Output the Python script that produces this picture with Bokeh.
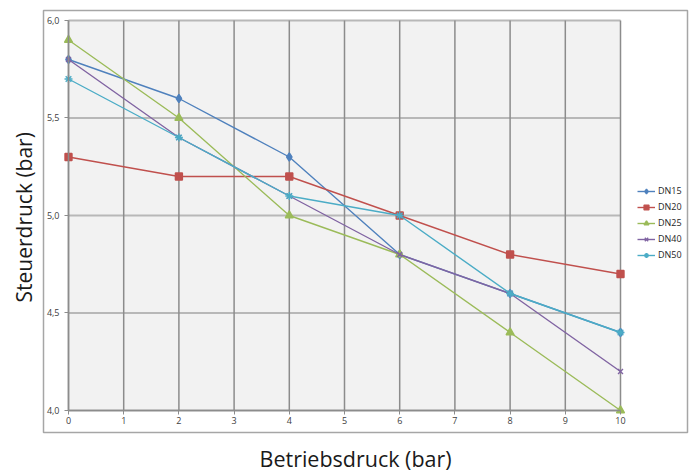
import math
from bokeh.plotting import figure
from bokeh.models import FixedTicker, Legend, LegendItem, Label, BoxAnnotation
from bokeh.embed import file_html
from bokeh.resources import INLINE

# ---- data ----
pressure = [0, 2, 4, 6, 8, 10]
dn15 = [5.8, 5.6, 5.3, 4.8, 4.6, 4.4]
dn20 = [5.3, 5.2, 5.2, 5.0, 4.8, 4.7]
dn25 = [5.9, 5.5, 5.0, 4.8, 4.4, 4.0]
dn40 = [5.8, 5.4, 5.1, 4.8, 4.6, 4.2]
dn50 = [5.7, 5.4, 5.1, 5.0, 4.6, 4.4]
series_names = ["DN15", "DN20", "DN25", "DN40", "DN50"]
x_ticks = list(range(0, 11))
y_ticks = [4.0, 4.5, 5.0, 5.5, 6.0]
y_tick_labels = ["4,0", "4,5", "5,0", "5,5", "6,0"]
x_title = "Betriebsdruck (bar)"
y_title = "Steuerdruck (bar)"

colors = ["#4F81BD", "#C0504D", "#9BBB59", "#8064A2", "#4BACC6"]
markers = ["diamond", "square", "triangle", "x", "asterisk"]
msizes = [8, 7, 8, 7, 8]

FONT = "Open Sans"
x0, x1 = x_ticks[0], x_ticks[-1]
y0, y1 = y_ticks[0], y_ticks[-1]

W, H = 692, 471
# the frame covers the whole canvas; plot area (0..10, 4..6) sits inside it
p = figure(width=W, height=H,
           x_range=(-1.2319, 11.3043), y_range=(3.68718, 6.10256),
           output_backend="svg", toolbar_location=None, min_border=0)
p.title.visible = False
p.background_fill_color = "white"
p.border_fill_color = "white"
p.outline_line_color = None
p.xgrid.visible = False
p.ygrid.visible = False

# outer chart-area box (screen units, measured from the canvas bottom-left)
p.add_layout(BoxAnnotation(left=43, right=687, bottom=H - 432, top=H - 10,
                           left_units="screen", right_units="screen",
                           bottom_units="screen", top_units="screen",
                           fill_alpha=0, line_color="#a6a6a6", line_width=1.5,
                           line_alpha=1, level="underlay"))

# plot-area background
p.quad(left=[x0], right=[x1], bottom=[y0], top=[y1],
       fill_color="#f2f2f2", line_color=None)
# gridlines
p.segment(x0=[x0] * len(y_ticks), y0=y_ticks, x1=[x1] * len(y_ticks), y1=y_ticks,
          line_color="#b8b8b8", line_width=2)
p.segment(x0=x_ticks, y0=[y0] * len(x_ticks), x1=x_ticks, y1=[y1] * len(x_ticks),
          line_color="#8c8c8c", line_width=1.5)

# main axes drawn at the plot-area edges
xa = p.xaxis[0]
ya = p.yaxis[0]
xa.fixed_location = y0
ya.fixed_location = x0
xa.bounds = (x0, x1)
ya.bounds = (y0, y1)
xa.ticker = FixedTicker(ticks=x_ticks)
ya.ticker = FixedTicker(ticks=y_ticks)
ya.major_label_overrides = {t: l for t, l in zip(y_ticks, y_tick_labels)}
for ax in (xa, ya):
    ax.axis_line_color = "#8c8c8c"
    ax.axis_line_width = 1.5
    ax.major_tick_line_color = "#8c8c8c"
    ax.major_tick_out = 4
    ax.major_tick_in = 0
    ax.minor_tick_line_color = None
    ax.major_label_text_font = FONT
    ax.major_label_text_font_size = "9px"
    ax.major_label_text_color = "#404040"
ya.major_label_standoff = 5
xa.major_label_standoff = 3

# axis titles
p.add_layout(Label(x=259, y=H - 458, x_units="screen", y_units="screen",
                   text=x_title, text_align="left", text_baseline="alphabetic",
                   text_font=FONT, text_font_size="21.5px", text_color="#1a1a1a"))
p.add_layout(Label(x=23, y=H - 302, x_units="screen", y_units="screen",
                   text=y_title, angle=math.pi / 2, text_align="left",
                   text_baseline="alphabetic",
                   text_font=FONT, text_font_size="21px", text_color="#1a1a1a"))

series = [dn15, dn20, dn25, dn40, dn50]
items = []
for name, vals, c, m, s in zip(series_names, series, colors, markers, msizes):
    r1 = p.line(pressure, vals, line_color=c, line_width=1.4)
    r2 = p.scatter(pressure, vals, marker=m, size=s, fill_color=c,
                   line_color=c, line_width=1.4)
    items.append(LegendItem(label=name, renderers=[r1, r2]))

legend = Legend(items=items, location=(637, 210))
legend.label_text_font = FONT
legend.label_text_font_size = "9px"
legend.label_text_color = "#262626"
legend.glyph_width = 18
legend.glyph_height = 12
legend.label_height = 12
legend.spacing = 3
legend.label_standoff = 3
legend.padding = 0
legend.margin = 0
legend.border_line_color = None
legend.background_fill_alpha = 0
p.add_layout(legend)

open("out.html", "w").write(file_html(p, INLINE))
